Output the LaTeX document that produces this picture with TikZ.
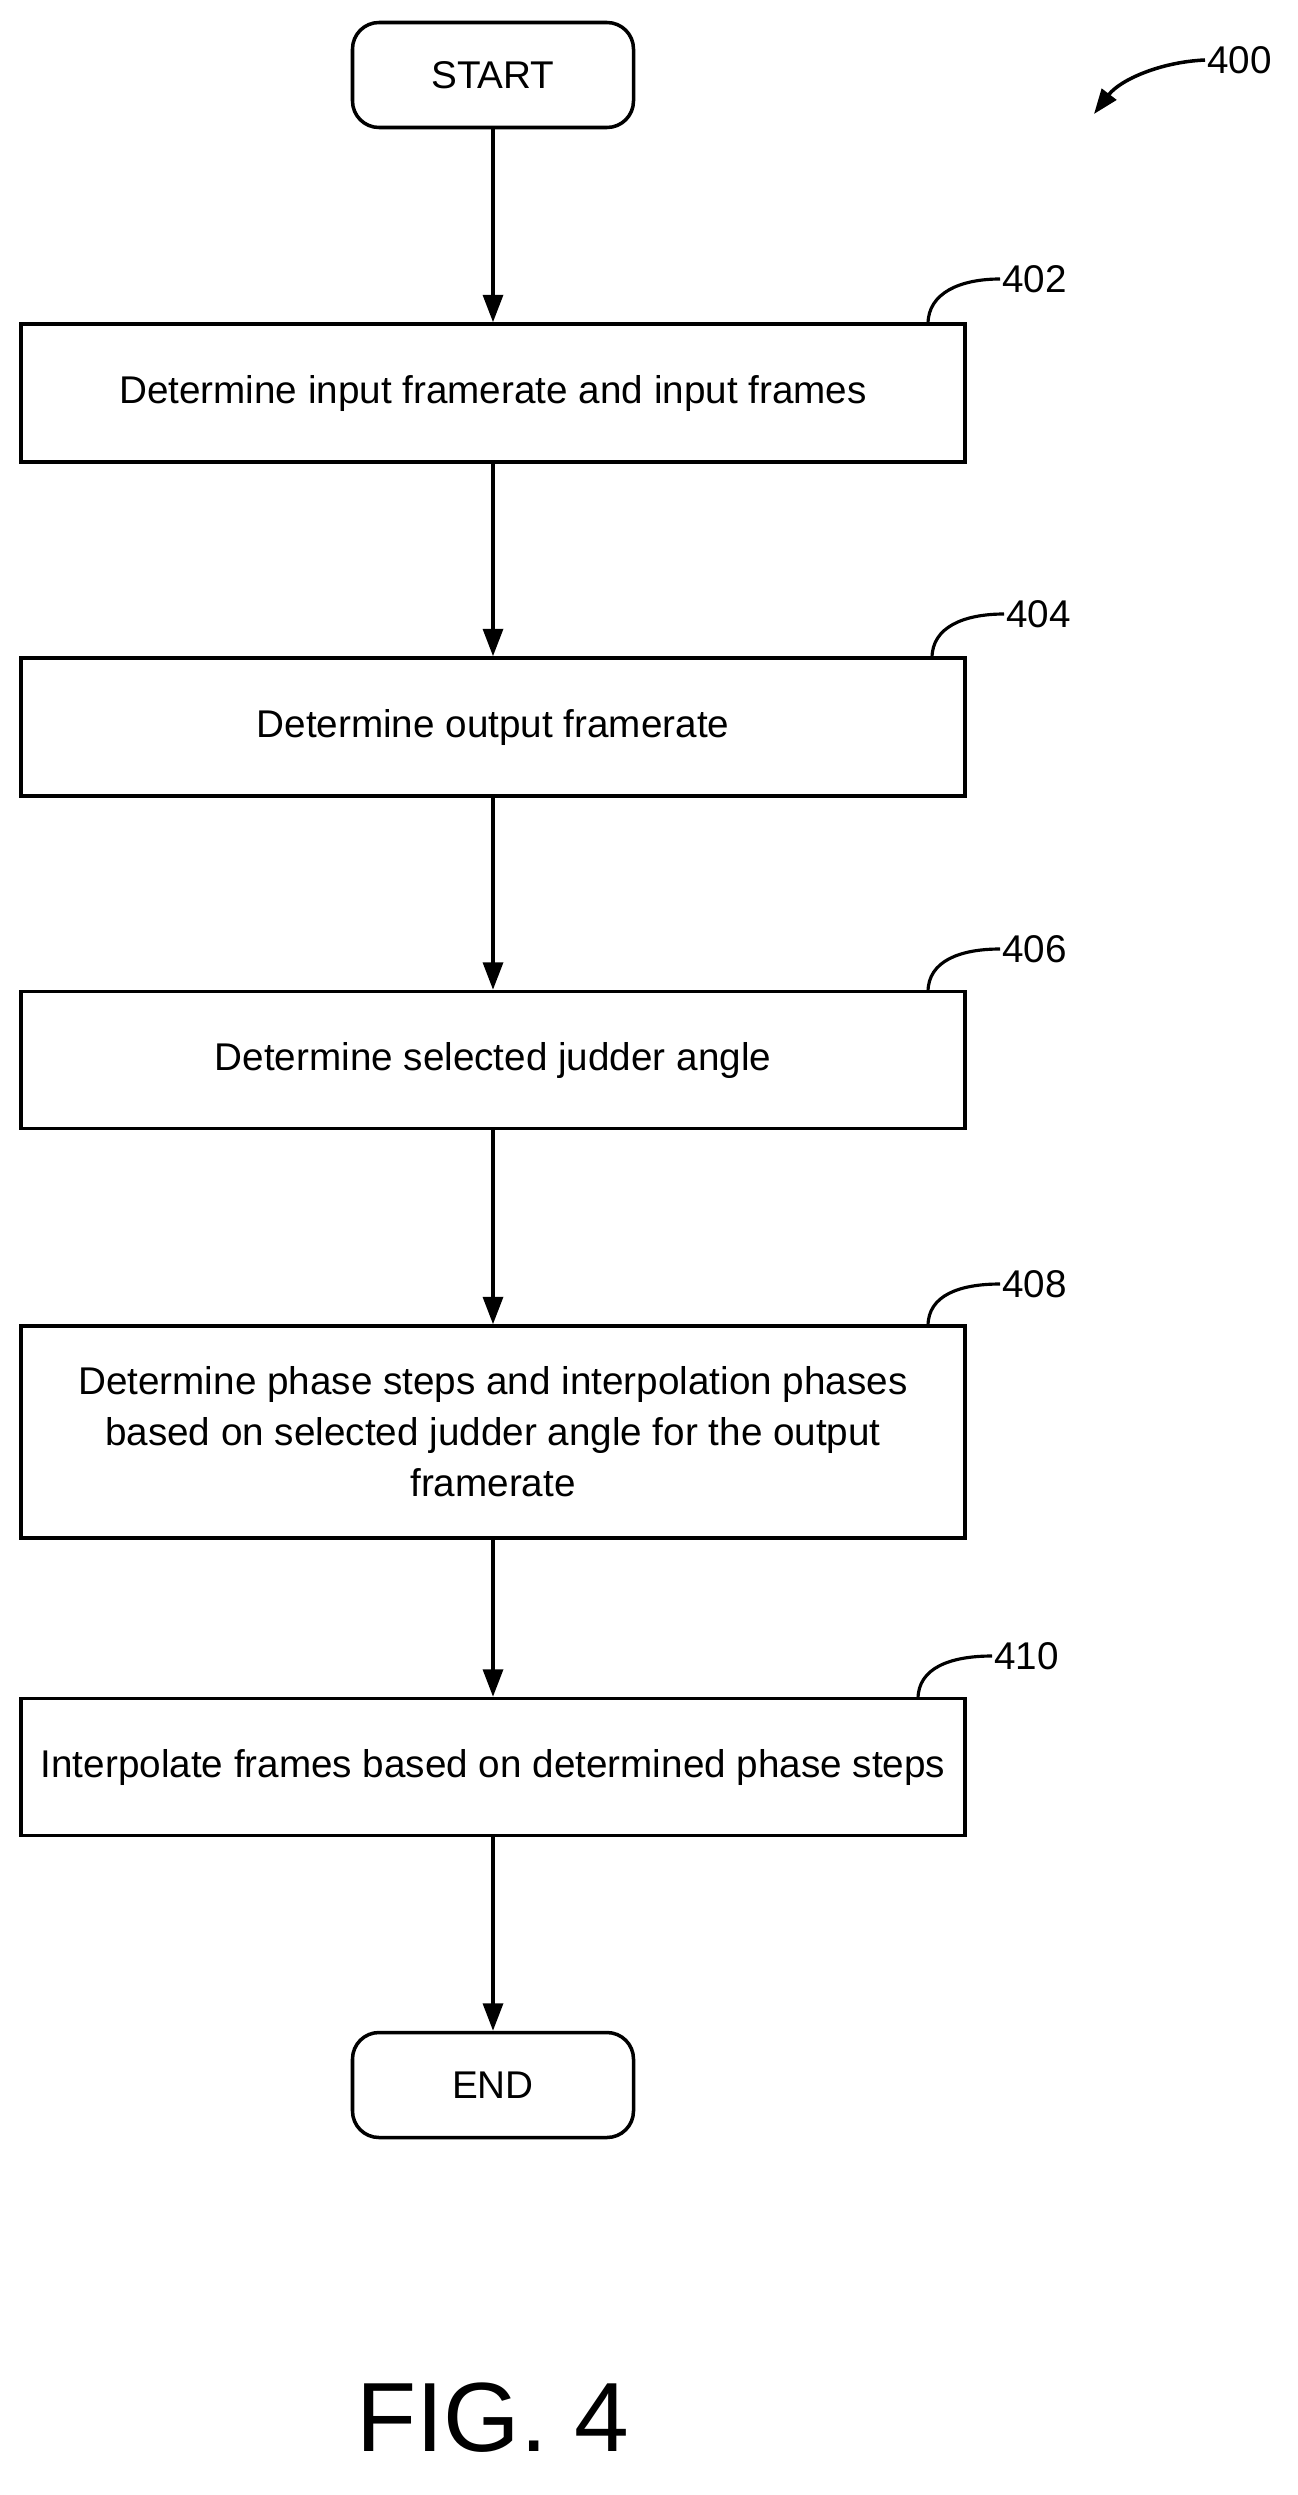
\documentclass[tikz,border=0pt]{standalone}
\usepackage{fontspec}
\setmainfont{Liberation Sans}
\usetikzlibrary{arrows.meta}
\begin{document}
\begin{tikzpicture}[x=0.02cm,y=-0.02cm,
  box/.style={draw,line width=2pt,minimum width=944*0.02cm,align=center,font=\fontsize{22}{29}\selectfont,inner sep=0pt},
  term/.style={draw,line width=2pt,rounded corners=0.53cm,minimum width=281*0.02cm,minimum height=105*0.02cm,font=\fontsize{22}{26}\selectfont},
  arr/.style={line width=2pt,-{Triangle[length=0.55cm,width=0.4cm]}},
  lbl/.style={font=\fontsize{22}{26}\selectfont,anchor=west,inner sep=1pt},
  lead/.style={line width=1.8pt}]
\useasboundingbox (0,0) rectangle (1298,2495);
\node[term] (start) at (493,75) {START};
\node[box,minimum height=138*0.02cm] (b1) at (493,393) {Determine input framerate and input frames};
\node[box,minimum height=138*0.02cm] (b2) at (493,727) {Determine output framerate};
\node[box,minimum height=137*0.02cm] (b3) at (493,1060) {Determine selected judder angle};
\node[box,minimum height=212*0.02cm] (b4) at (493,1432) {Determine phase steps and interpolation phases\\based on selected judder angle for the output\\framerate};
\node[box,minimum height=137*0.02cm] (b5) at (493,1767) {Interpolate frames based on determined phase steps};
\node[term] (end) at (493,2085) {END};
\node[font=\fontsize{56}{60}\selectfont] (fig) at (493,2418) {FIG. 4};
\draw[arr] (start) -- (b1);
\draw[arr] (b1) -- (b2);
\draw[arr] (b2) -- (b3);
\draw[arr] (b3) -- (b4);
\draw[arr] (b4) -- (b5);
\draw[arr] (b5) -- (end);
\node[lbl] (l402) at (1000,279) {402};
\node[lbl] (l404) at (1004,614) {404};
\node[lbl] (l406) at (1000,949) {406};
\node[lbl] (l408) at (1000,1284) {408};
\node[lbl] (l410) at (992,1656) {410};
\node[lbl] (l400) at (1205,60) {400};
\coordinate (c402) at (928,324);
\coordinate (c404) at (932,658);
\coordinate (c406) at (928,992);
\coordinate (c408) at (928,1326);
\coordinate (c410) at (918,1699);
\draw[lead] (c402) .. controls (928,293) and (960,279) .. (l402.west);
\draw[lead] (c404) .. controls (932,627) and (964,614) .. (l404.west);
\draw[lead] (c406) .. controls (928,961) and (960,949) .. (l406.west);
\draw[lead] (c408) .. controls (928,1295) and (960,1284) .. (l408.west);
\draw[lead] (c410) .. controls (918,1668) and (950,1656) .. (l410.west);
\coordinate (a400) at (1094,114);
\draw[line width=2pt,-{Triangle[length=0.5cm,width=0.36cm]}] (l400.west) .. controls (1160,62) and (1120,80) .. (a400);
\end{tikzpicture}
\end{document}
